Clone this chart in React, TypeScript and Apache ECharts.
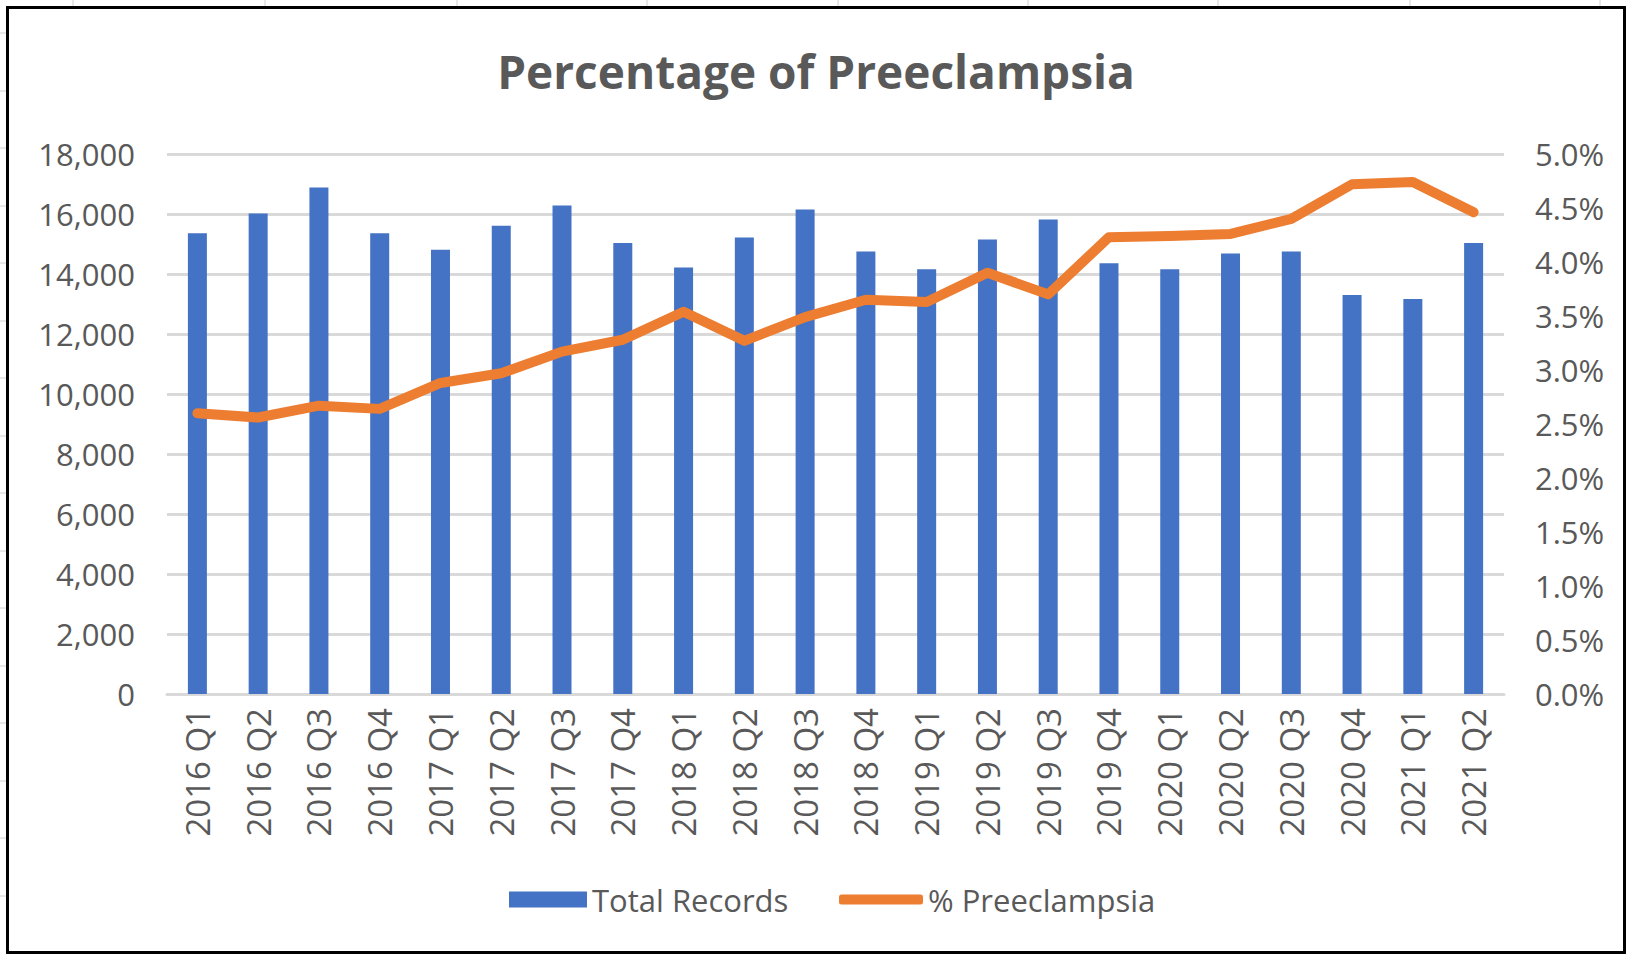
import React, { useEffect, useRef } from "react";
import * as echarts from "echarts";

const categories = [
  "2016 Q1", "2016 Q2", "2016 Q3", "2016 Q4",
  "2017 Q1", "2017 Q2", "2017 Q3", "2017 Q4",
  "2018 Q1", "2018 Q2", "2018 Q3", "2018 Q4",
  "2019 Q1", "2019 Q2", "2019 Q3", "2019 Q4",
  "2020 Q1", "2020 Q2", "2020 Q3", "2020 Q4",
  "2021 Q1", "2021 Q2",
];

const totalRecords = [
  15360, 16020, 16880, 15360,
  14810, 15610, 16280, 15030,
  14220, 15220, 16150, 14750,
  14160, 15150, 15820, 14360,
  14160, 14680, 14750, 13300,
  13170, 15030,
];

const pctPreeclampsia = [
  2.60, 2.56, 2.67, 2.64,
  2.88, 2.97, 3.17, 3.28,
  3.54, 3.27, 3.49, 3.65,
  3.63, 3.90, 3.70, 4.23,
  4.24, 4.26, 4.40, 4.72,
  4.74, 4.46,
];

const leftAxisMin = 0;
const leftAxisMax = 18000;
const leftAxisStep = 2000;
const rightAxisMin = 0;
const rightAxisMax = 5;
const rightAxisStep = 0.5;

const columnLineXs = [73, 265, 457, 647, 838, 1028, 1218, 1410, 1600];
const rowLineYs = [33, 91, 148, 206, 263, 321, 378, 436, 493, 551, 608, 666, 723, 781, 838, 896];

const FONT = "'Open Sans', 'Noto Sans', sans-serif";
const TEXT = "#595959";
const GRID = "#D9D9D9";
const BLUE = "#4472C4";
const ORANGE = "#ED7D31";

export default function App() {
  const ref = useRef<HTMLDivElement>(null);

  useEffect(() => {
    document.body.style.margin = "0";
    const chart = echarts.init(ref.current!, null, { renderer: "svg" });

    const graphics: any[] = [];
    columnLineXs.forEach((x) =>
      graphics.push({
        type: "line",
        shape: { x1: x, y1: 0, x2: x, y2: 6 },
        style: { stroke: "#D0D0D0", lineWidth: 1 },
        silent: true,
      })
    );
    rowLineYs.forEach((y) =>
      graphics.push({
        type: "line",
        shape: { x1: 0, y1: y, x2: 6, y2: y },
        style: { stroke: "#D0D0D0", lineWidth: 1 },
        silent: true,
      })
    );
    graphics.push({
      type: "rect",
      shape: { x: 7.5, y: 7.5, width: 1617, height: 945 },
      style: { fill: "none", stroke: "#000", lineWidth: 3 },
      silent: true,
    });

    chart.setOption({
      animation: false,
      backgroundColor: "#fff",
      textStyle: { fontFamily: FONT },
      title: {
        text: "Percentage of Preeclampsia",
        left: "center",
        top: 43,
        padding: [5, 5, 5, 15],
        textStyle: {
          fontFamily: FONT,
          fontWeight: "bold",
          fontSize: 46,
          color: TEXT,
        },
      },
      grid: { left: 167, right: 128, top: 154, bottom: 262 },
      legend: [
        {
          data: [{ name: "Total Records", icon: "rect" }],
          left: 504,
          top: 879,
          itemWidth: 78,
          itemHeight: 16,
          itemGap: 10,
          textStyle: { fontFamily: FONT, fontSize: 31, color: TEXT },
          selectedMode: false,
        },
        {
          data: [{ name: "% Preeclampsia", icon: "roundRect" }],
          left: 834,
          top: 879,
          itemWidth: 84,
          itemHeight: 10,
          itemGap: 10,
          textStyle: { fontFamily: FONT, fontSize: 31, color: TEXT },
          selectedMode: false,
        },
      ],
      xAxis: {
        type: "category",
        data: categories,
        boundaryGap: true,
        axisLine: { show: true, lineStyle: { color: GRID, width: 3 } },
        axisTick: { show: false },
        axisLabel: {
          rotate: 90,
          margin: 14,
          fontFamily: FONT,
          fontSize: 33,
          color: TEXT,
          interval: 0,
        },
      },
      yAxis: [
        {
          type: "value",
          min: leftAxisMin,
          max: leftAxisMax,
          interval: leftAxisStep,
          position: "left",
          axisLine: { show: false },
          axisTick: { show: false },
          splitLine: { show: true, lineStyle: { color: GRID, width: 3 } },
          axisLabel: {
            margin: 32,
            fontFamily: FONT,
            fontSize: 31,
            color: TEXT,
            formatter: (v: number) => v.toLocaleString("en-US"),
          },
        },
        {
          type: "value",
          min: rightAxisMin,
          max: rightAxisMax,
          interval: rightAxisStep,
          position: "right",
          axisLine: { show: false },
          axisTick: { show: false },
          splitLine: { show: false },
          axisLabel: {
            margin: 31,
            fontFamily: FONT,
            fontSize: 31,
            color: TEXT,
            formatter: (v: number) => v.toFixed(1) + "%",
          },
        },
      ],
      series: [
        {
          name: "Total Records",
          type: "bar",
          yAxisIndex: 0,
          data: totalRecords,
          barWidth: 19,
          itemStyle: { color: BLUE },
        },
        {
          name: "% Preeclampsia",
          type: "line",
          yAxisIndex: 1,
          data: pctPreeclampsia,
          symbol: "none",
          showSymbol: false,
          itemStyle: { color: ORANGE },
          lineStyle: { color: ORANGE, width: 10, cap: "round", join: "round" },
          z: 3,
        },
      ],
      graphic: graphics,
    });

    return () => chart.dispose();
  }, []);

  return (
    <div
      ref={ref}
      style={{ position: "absolute", left: 0, top: 0, width: 1632, height: 956 }}
    />
  );
}
